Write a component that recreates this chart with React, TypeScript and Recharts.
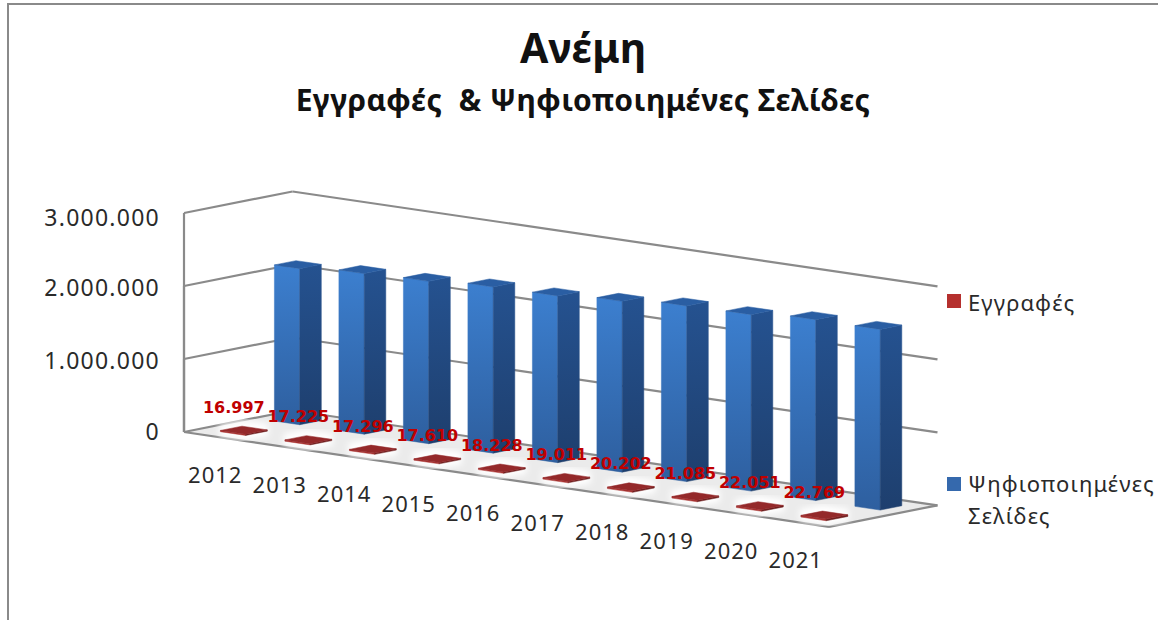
import { BarChart, Bar, XAxis, YAxis, CartesianGrid, LabelList } from "recharts";

const years = ["2012", "2013", "2014", "2015", "2016", "2017", "2018", "2019", "2020", "2021"];
const records = [16997, 17225, 17296, 17610, 18228, 19011, 20202, 21085, 22051, 22769];
const pages = [2138000, 2200000, 2224000, 2277000, 2284000, 2340000, 2407000, 2417000, 2478000, 2475000];
const yTicks = [0, 1000000, 2000000, 3000000];

const recordsName = "Εγγραφές";
const pagesName = "Ψηφιοποιημένες Σελίδες";

const data = years.map((year, i) => ({ year, records: records[i], pages: pages[i] }));

// oblique projection of the flat plot area
const LEFT = 184;
const TOP = 213;
const BOTTOM = 432;
const PLOT_W = 645;
const SLOPE = 0.147;
const DEPTH_X = 108.5;
const DEPTH_RATE = 0.198;
const GRID = "#8a8a8a";
const FONT = "'Noto Sans', sans-serif";

const project = (x: number, y: number, d = 0) =>
  [x + d, y + SLOPE * (x - LEFT) - DEPTH_RATE * d] as const;

const pts = (list: (readonly [number, number])[]) => list.map((p) => p.join(",")).join(" ");

function Box3D(props: any) {
  const { x, y, width, height, d0, d1, front, side, top, halo } = props;
  const bottom = y + height;
  const right = x + width + 0.3;
  const frontFace = [project(x, y, d0), project(right, y, d0), project(right, bottom, d0), project(x, bottom, d0)];
  const sideFace = [project(right, y, d0), project(right, y, d1), project(right, bottom, d1), project(right, bottom, d0)];
  const topFace = [project(x, y, d0), project(right, y, d0), project(right, y, d1), project(x, y, d1)];
  return (
    <g>
      {halo && <polygon points={pts(topFace)} fill="#fff" stroke="#fff" strokeWidth={12} filter="url(#halo)" />}
      <polygon points={pts(frontFace)} fill={front} stroke={front} strokeWidth={0.5} />
      <polygon points={pts(sideFace)} fill={side} stroke={side} strokeWidth={0.5} />
      <polygon points={pts(topFace)} fill={top} stroke={top} strokeWidth={0.5} />
    </g>
  );
}

function GridLine(props: any) {
  const { x1, y1, x2, y2 } = props;
  const a = project(x1, y1);
  const b = project(x2, y2);
  const backA = project(x1, y1, DEPTH_X);
  const backB = project(x2, y2, DEPTH_X);
  const isFloor = Math.abs(y1 - BOTTOM) < 1;
  return (
    <g>
      {isFloor && <polygon points={pts([a, b, backB, backA])} fill="#ebebeb" />}
      {isFloor && <line x1={a[0]} y1={a[1]} x2={b[0]} y2={b[1]} stroke={GRID} strokeWidth={2.2} />}
      {isFloor && <line x1={b[0]} y1={b[1]} x2={backB[0]} y2={backB[1]} stroke={GRID} strokeWidth={2.2} />}
      {!isFloor && <line x1={a[0]} y1={a[1]} x2={LEFT} y2={BOTTOM} stroke={GRID} strokeWidth={2.2} />}
      <line x1={a[0]} y1={a[1]} x2={backA[0]} y2={backA[1]} stroke={GRID} strokeWidth={2.2} />
      <line x1={backA[0]} y1={backA[1]} x2={backB[0]} y2={backB[1]} stroke={GRID} strokeWidth={2.2} />
    </g>
  );
}

function YearTick(props: any) {
  const { x, y, payload } = props;
  const [px, py] = project(x - 1, y);
  return (
    <text x={px} y={py + 38.5} textAnchor="middle" fontFamily={FONT} fontSize={22} letterSpacing={1} fill="#2a2a2a">
      {payload.value}
    </text>
  );
}

function ValueTick(props: any) {
  const { y, payload } = props;
  const nudge = payload.value === 3000000 ? 5 : payload.value === 0 ? 0 : 2;
  return (
    <text x={160} y={y + nudge + 8} textAnchor="end" fontFamily={FONT} fontSize={23} letterSpacing={1.25} fill="#2a2a2a">
      {payload.value.toLocaleString("de-DE")}
    </text>
  );
}

function RecordLabel(props: any) {
  const { x, y, value } = props;
  const [px, py] = project(x, y);
  return (
    <text x={px + 29.8} y={py - 21} textAnchor="middle" fontFamily="'DejaVu Sans', sans-serif" fontWeight="bold" fontSize={16} fill="#c00000">
      {value.toLocaleString("de-DE")}
    </text>
  );
}

function LegendItem({ top, iconTop, color, lines }: { top: number; iconTop: number; color: string; lines: string[] }) {
  return (
    <div style={{ position: "absolute", left: 947, top, fontFamily: FONT, fontSize: 22, lineHeight: "32px", letterSpacing: 1.1, color: "#2a2a2a" }}>
      <div style={{ position: "absolute", left: 0, top: iconTop, width: 14, height: 14, background: color }} />
      <div style={{ marginLeft: 21, whiteSpace: "nowrap" }}>
        {lines.map((l) => (
          <div key={l}>{l}</div>
        ))}
      </div>
    </div>
  );
}

export default function App() {
  return (
    <div style={{ position: "absolute", left: 0, top: 0, width: 1158, height: 620, overflow: "hidden", background: "#fff" }}>
      <div style={{ position: "absolute", left: 7, top: 3, width: 1151, height: 617, borderTop: "2px solid #8a8a8a", borderLeft: "2px solid #8a8a8a" }} />
      <div style={{ position: "absolute", left: 0, width: 1166, top: 17, textAlign: "center", fontFamily: FONT, fontWeight: "bold", fontSize: 41, lineHeight: "60px", color: "#111" }}>
        Ανέμη
      </div>
      <div style={{ position: "absolute", left: 0, width: 1166, top: 75, textAlign: "center", fontFamily: FONT, fontWeight: "bold", fontSize: 30, lineHeight: "50px", letterSpacing: 0.42, color: "#111", whiteSpace: "pre" }}>
        Εγγραφές  &amp; Ψηφιοποιημένες Σελίδες
      </div>

      <BarChart
        style={{ position: "absolute", left: 0, top: 0 }}
        width={1158}
        height={620}
        data={data}
        margin={{ top: TOP, right: 1158 - LEFT - PLOT_W, bottom: 148, left: 0 }}
        barSize={25}
        barGap={-25}
      >
        <defs>
          <linearGradient id="blueFront" x1="0" y1="0" x2="0" y2="1">
            <stop offset="0%" stopColor="#3c7fcf" />
            <stop offset="100%" stopColor="#2e5f9f" />
          </linearGradient>
          <linearGradient id="blueSide" x1="0" y1="0" x2="0" y2="1">
            <stop offset="0%" stopColor="#255290" />
            <stop offset="100%" stopColor="#1e3f6e" />
          </linearGradient>
          <filter id="halo" x="-30%" y="-80%" width="160%" height="260%">
            <feGaussianBlur stdDeviation="3" />
          </filter>
        </defs>
        <CartesianGrid horizontal={(p: any) => <GridLine key={p.key} {...p} />} vertical={false} />
        <XAxis dataKey="year" interval={0} axisLine={false} tickLine={false} height={40} tick={<YearTick />} />
        <YAxis width={LEFT} domain={[0, 3000000]} ticks={yTicks} axisLine={false} tickLine={false} tick={<ValueTick />} />
        <Bar
          dataKey="pages"
          name={pagesName}
          isAnimationActive={false}
          shape={(p: any) => <Box3D {...p} d0={70.4} d1={92} front="url(#blueFront)" side="url(#blueSide)" top="#2a5ea3" />}
        />
        <Bar
          dataKey="records"
          name={recordsName}
          isAnimationActive={false}
          shape={(p: any) => <Box3D {...p} d0={16.4} d1={38} front="#a83230" side="#6f1e1e" top="#94292a" halo />}
        >
          <LabelList dataKey="records" content={<RecordLabel />} />
        </Bar>
      </BarChart>

      <LegendItem top={286} iconTop={8} color="#b5302e" lines={[recordsName]} />
      <LegendItem top={467} iconTop={10} color="#3569ad" lines={["Ψηφιοποιημένες", "Σελίδες"]} />
    </div>
  );
}
